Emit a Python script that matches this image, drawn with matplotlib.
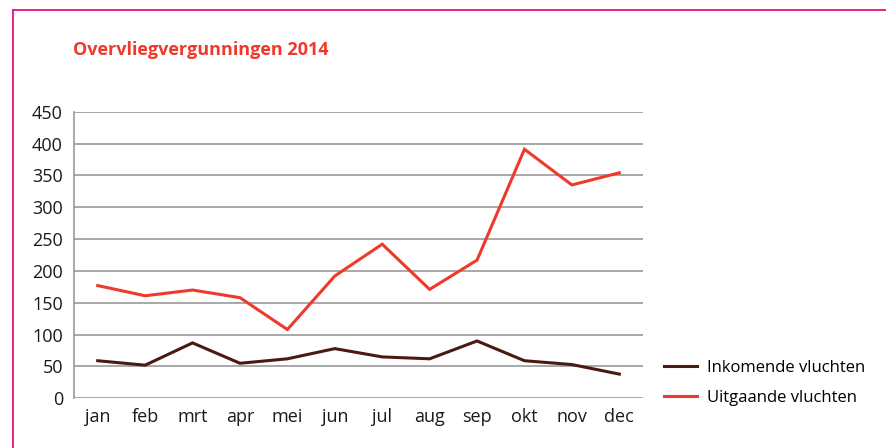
import matplotlib
matplotlib.use("Agg")
import matplotlib.pyplot as plt
from matplotlib.lines import Line2D

plt.rcParams['font.family'] = ['Open Sans', 'DejaVu Sans']

months = ["jan", "feb", "mrt", "apr", "mei", "jun", "jul", "aug", "sep", "okt", "nov", "dec"]
inkomend = [59, 52, 87, 55, 62, 78, 65, 62, 90, 59, 53, 38]
uitgaand = [177, 161, 170, 158, 108, 192, 242, 171, 217, 391, 335, 354]
yticks = [0, 50, 100, 150, 200, 250, 300, 350, 400, 450]
title = "Overvliegvergunningen 2014"
labels = ["Inkomende vluchten", "Uitgaande vluchten"]

RED = "#ee3a2c"
BROWN = "#4a1a10"
GRID = "#9a9a9a"
MAGENTA = "#e8117f"

W, H = 886, 448
fig = plt.figure(figsize=(W / 100, H / 100), dpi=100)
ax = fig.add_axes([74 / W, 1 - 398.3 / H, (643 - 74) / W, (398.3 - 111.7) / H])

x = list(range(len(months)))
ax.plot(x, inkomend, color=BROWN, lw=2.2, solid_joinstyle="miter")
ax.plot(x, uitgaand, color=RED, lw=2.2, solid_joinstyle="miter")

ax.set_xlim(-0.5, len(months) - 0.5)
ax.set_ylim(0, 450)
ax.set_yticks(yticks)
ax.set_yticklabels([str(v) for v in yticks])
ax.set_xticks(x)
ax.set_xticklabels(months)
ax.tick_params(axis="both", length=0, labelsize=13, colors="#1a1a1a")
ax.tick_params(axis="y", pad=8)
ax.tick_params(axis="x", pad=7)
ax.grid(axis="y", color=GRID, lw=1.2)
ax.set_axisbelow(True)
for s in ["top", "right", "bottom"]:
    ax.spines[s].set_visible(False)
ax.spines["left"].set_color(GRID)
ax.spines["left"].set_linewidth(1.2)

# Title
fig.text(73 / W, 1 - 55 / H, title, color=RED, fontsize=13, fontweight="bold",
         ha="left", va="baseline")

# Legend
handles = [Line2D([], [], color=BROWN, lw=2.2), Line2D([], [], color=RED, lw=2.2)]
fig.legend(handles, labels, loc="center left", bbox_to_anchor=(649 / W, 1 - 383 / H),
           frameon=False, fontsize=12, handlelength=2.0, handletextpad=0.6,
           labelspacing=0.85)

# Magenta frame (top and left)
fig.add_artist(Line2D([13 / W, 1], [1 - 10 / H, 1 - 10 / H], color=MAGENTA, lw=1.3,
                      transform=fig.transFigure))
fig.add_artist(Line2D([13 / W, 13 / W], [0, 1 - 10 / H], color=MAGENTA, lw=1.3,
                      transform=fig.transFigure))

fig.savefig("out.png", dpi=100)
